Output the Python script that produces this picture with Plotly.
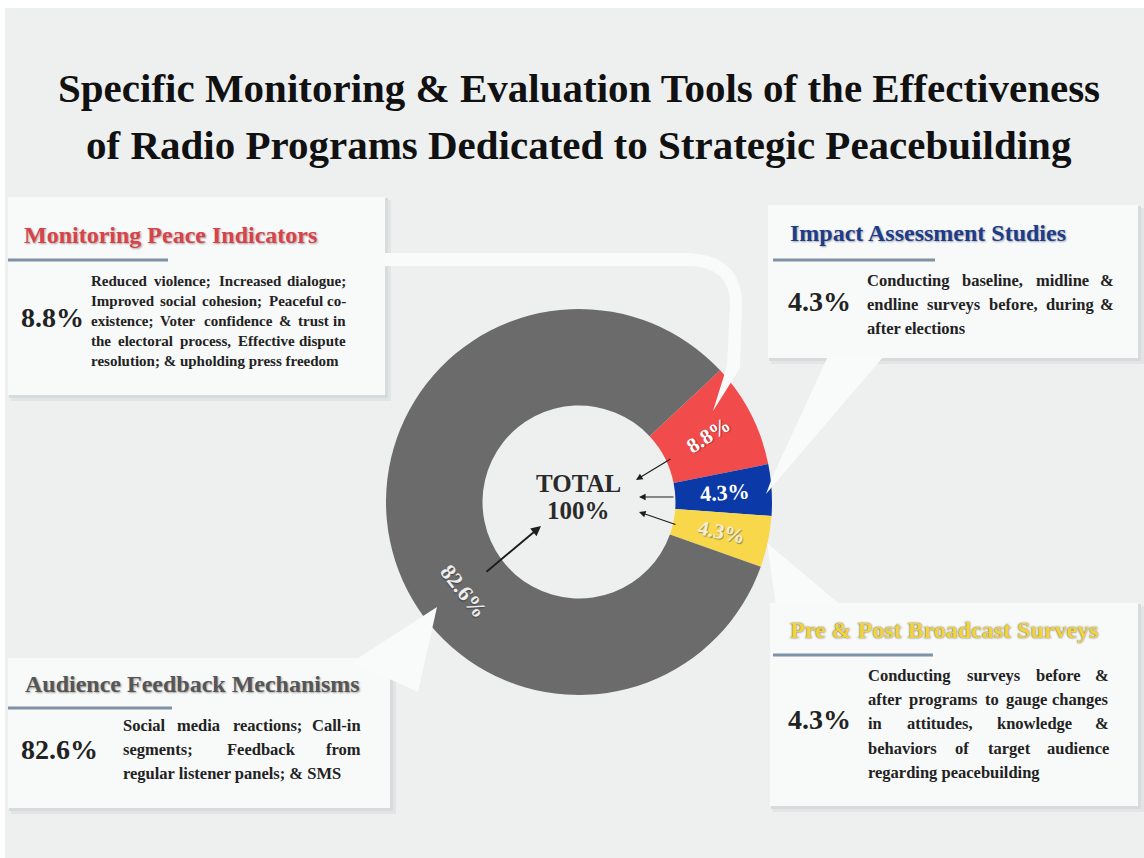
import math
import plotly.graph_objects as go

# ---------------- data ----------------
categories = [
    "Monitoring Peace Indicators",
    "Impact Assessment Studies",
    "Pre & Post Broadcast Surveys",
    "Audience Feedback Mechanisms",
]
values = [8.8, 4.3, 4.3, 82.6]
slice_colors = ["#f24b4c", "#0b3aa8", "#f8d84a", "#6b6b6b"]
header_colors = ["#d8434a", "#1d3c8c", "#f3d33a", "#565656"]

desc_monitoring = [
    "Reduced violence; Increased dialogue;",
    "Improved social cohesion; Peaceful co-",
    "existence; Voter confidence & trust in",
    "the electoral process, Effective dispute",
    "resolution; & upholding press freedom",
]
desc_impact = [
    "Conducting baseline, midline &",
    "endline surveys before, during &",
    "after elections",
]
desc_prepost = [
    "Conducting surveys before &",
    "after programs to gauge changes",
    "in attitudes, knowledge &",
    "behaviors of target audience",
    "regarding peacebuilding",
]
desc_audience = [
    "Social media reactions; Call-in",
    "segments; Feedback from",
    "regular listener panels; & SMS",
]
title_lines = [
    "Specific Monitoring & Evaluation Tools of the Effectiveness",
    "of Radio Programs Dedicated to Strategic Peacebuilding",
]
center_lines = ["TOTAL", "100%"]

# ---------------- layout constants ----------------
W, H = 1144, 858
CX, CY, R = 579, 502, 193
ROT = 47
SERIF = "Liberation Serif, Times New Roman, serif"
BG = "#eef0f0"
BOX = "#f8f9f9"

# Times-Bold glyph widths (per 1000 em) for justification
_w = {" ": 250, "!": 333, "&": 833, ",": 250, "-": 333, ".": 250, ";": 333, "%": 1000}
for d in "0123456789":
    _w[d] = 500
_w.update(dict(zip("abcdefghijklmnopqrstuvwxyz",
                   [500, 556, 444, 556, 444, 333, 500, 556, 278, 333, 556, 278, 833,
                    556, 500, 556, 556, 444, 389, 333, 556, 500, 722, 500, 500, 444])))
_w.update(dict(zip("ABCDEFGHIJKLMNOPQRSTUVWXYZ",
                   [722, 667, 722, 722, 667, 611, 778, 778, 389, 500, 778, 667, 944,
                    722, 778, 611, 778, 722, 556, 667, 722, 722, 1000, 722, 722, 667])))


def text_w(s, size):
    return sum(_w.get(c, 500) for c in s) * size / 1000.0


fig = go.Figure()

# invisible cartesian layer spanning the whole canvas (pixel coordinates)
fig.add_trace(go.Scatter(x=[0, W], y=[0, H], mode="markers",
                         marker=dict(opacity=0), hoverinfo="skip", showlegend=False))

fig.add_trace(go.Pie(
    values=values, labels=categories, hole=0.5, sort=False,
    direction="clockwise", rotation=ROT,
    marker=dict(colors=slice_colors, line=dict(width=0)),
    textinfo="none", hoverinfo="label+value", showlegend=False,
    domain=dict(x=[(CX - R) / W, (CX + R) / W],
                y=[1 - (CY + R) / H, 1 - (CY - R) / H]),
))

shapes = []
annotations = []

# background
shapes.append(dict(type="rect", x0=5, y0=8, x1=W, y1=H, fillcolor=BG,
                   line=dict(width=0), layer="below"))


def box(x0, y0, x1, y1):
    shapes.append(dict(type="rect", x0=x0 + 3, y0=y0 + 3, x1=x1 + 6, y1=y1 + 6,
                       fillcolor="#e2e5e5", line=dict(width=0), layer="below"))
    shapes.append(dict(type="rect", x0=x0 + 1, y0=y0 + 1, x1=x1 + 3, y1=y1 + 3,
                       fillcolor="#d8dbdb", line=dict(width=0), layer="below"))
    shapes.append(dict(type="rect", x0=x0, y0=y0, x1=x1, y1=y1,
                       fillcolor=BOX, line=dict(width=0), layer="below"))


def tail(path):
    shapes.append(dict(type="path", path=path, fillcolor="#f9fafa",
                       line=dict(width=0), layer="above"))


box(8, 197, 385, 395)      # Monitoring
box(768, 205, 1138, 358)   # Impact
box(770, 603, 1138, 806)   # Pre & Post
box(8, 658, 390, 808)      # Audience

# speech-bubble tails
tail("M 385,253 L 688,253 Q 742,255 742,305 L 740,368 L 713,411 L 727,366 "
     "L 730,305 Q 730,266 688,266 L 385,266 Z")
tail("M 828,356 L 884,356 L 766,494 L 772,478 Z")
tail("M 767,543 L 776,606 L 842,606 Z")
tail("M 437,607 L 352,662 L 418,692 Z")


def ann(x, y, text, size, color="#222", anchor="left", yanchor="middle",
        angle=0, shadow="none"):
    annotations.append(dict(
        x=x, y=y, xref="x", yref="y", text=text, showarrow=False,
        xanchor=anchor, yanchor=yanchor, textangle=angle, borderpad=0,
        font=dict(family=SERIF, size=size, color=color, weight="bold",
                  shadow=shadow)))


def paragraph(lines, x0, x1, ys, size, justify_last=False):
    for i, (line, y) in enumerate(zip(lines, ys)):
        words = line.split(" ")
        last = (i == len(lines) - 1)
        if (last and not justify_last) or len(words) == 1:
            ann(x0, y, line, size)
            continue
        widths = [text_w(wd, size) for wd in words]
        gap = (x1 - x0 - sum(widths)) / (len(words) - 1)
        x = x0
        for j, (wd, wdw) in enumerate(zip(words, widths)):
            if j == len(words) - 1:
                ann(x1, y, wd, size, anchor="right")
            else:
                ann(x, y, wd, size)
            x += wdw + gap


def header(x, y, text, color, shadow):
    ann(x, y, text, 24, color=color, shadow=shadow)


def underline(x0, x1, y):
    shapes.append(dict(type="line", x0=x0, x1=x1, y0=y, y1=y,
                       line=dict(color="#8092a6", width=3), layer="below"))


pct = [f"{v:.1f}%" for v in values]

# Monitoring box
header(23, 235, categories[0], header_colors[0], "1px 1px 2px rgba(0,0,0,0.35)")
underline(8, 168, 260)
ann(20, 317, pct[0], 28)
paragraph(desc_monitoring, 90, 347, [281, 301, 321, 341, 361], 15)

# Impact box
header(789, 233, categories[1], header_colors[1], "1px 1px 2px rgba(0,0,0,0.35)")
underline(773, 935, 260)
ann(787, 301, pct[1], 28)
paragraph(desc_impact, 866, 1115, [280, 304, 328], 16.5)

# Pre & Post box
header(789, 630, categories[2], header_colors[2], "0px 0px 2px rgba(60,60,60,0.9)")
underline(773, 933, 655)
ann(787, 719, pct[2], 28)
paragraph(desc_prepost, 867, 1110, [675, 699, 723, 748, 772], 16.5)

# Audience box
header(24, 684, categories[3], header_colors[3], "1px 1px 2px rgba(0,0,0,0.35)")
underline(8, 172, 708)
ann(20, 749, pct[3], 28)
paragraph(desc_audience, 122, 362, [725, 749, 773], 16.5)

# title
ann(579, 88, title_lines[0], 41, color="#111", anchor="center")
ann(579, 145, title_lines[1], 41, color="#111", anchor="center")

# center text
ann(578, 483, center_lines[0], 25, color="#2a2a2a", anchor="center")
ann(578, 510, center_lines[1], 25, color="#2a2a2a", anchor="center")

# slice labels, positioned from the data (mid-angle of each slice)
total = sum(values)
cum = 0.0
label_fonts = [
    dict(color="#ffffff", size=21, shadow="1px 1px 1px rgba(0,0,0,0.3)"),
    dict(color="#ffffff", size=22, shadow="none"),
    dict(color="#f3eed2", size=21, shadow="1px 1px 1px rgba(80,80,80,0.6)"),
    dict(color="#eeeeee", size=22, shadow="1px 1px 1px rgba(0,0,0,0.3)"),
]
for i, v in enumerate(values):
    mid = ROT + 360.0 * (cum + v / 2.0) / total
    cum += v
    if i == len(values) - 1:
        mid = 232.0           # label of the large slice sits lower-left
        angle = mid - 180.0   # tangential
    else:
        angle = mid - 90.0    # radial
        if i == 0:
            angle -= 6
    rl = 146
    lx = CX + rl * math.sin(math.radians(mid))
    ly = CY - rl * math.cos(math.radians(mid))
    ann(lx, ly, pct[i], label_fonts[i]["size"], color=label_fonts[i]["color"],
        anchor="center", angle=angle, shadow=label_fonts[i]["shadow"])

# arrows pointing to the total
arrows = [
    ((672, 458), (636, 480), 1.2),
    ((675, 497), (639, 497), 1.2),
    ((677, 525), (639, 512), 1.2),
    ((485, 573), (541, 526), 2.0),
]
for (tx, ty), (hx, hy), wdt in arrows:
    annotations.append(dict(
        x=hx, y=hy, ax=tx, ay=ty, xref="x", yref="y", axref="x", ayref="y",
        text="", showarrow=True, arrowhead=2, arrowsize=1.1 if wdt < 2 else 1.0,
        arrowwidth=wdt, arrowcolor="#1e1e1e"))

fig.update_layout(
    width=W, height=H, margin=dict(l=0, r=0, t=0, b=0),
    paper_bgcolor="#ffffff", plot_bgcolor="rgba(0,0,0,0)",
    xaxis=dict(range=[0, W], visible=False, fixedrange=True, domain=[0, 1]),
    yaxis=dict(range=[H, 0], visible=False, fixedrange=True, domain=[0, 1]),
    shapes=shapes, annotations=annotations, showlegend=False,
)

fig.write_html("out.html",
               config={"displayModeBar": False},
               post_script="document.body.style.margin='0px';"
                           "document.body.style.overflow='hidden';")
